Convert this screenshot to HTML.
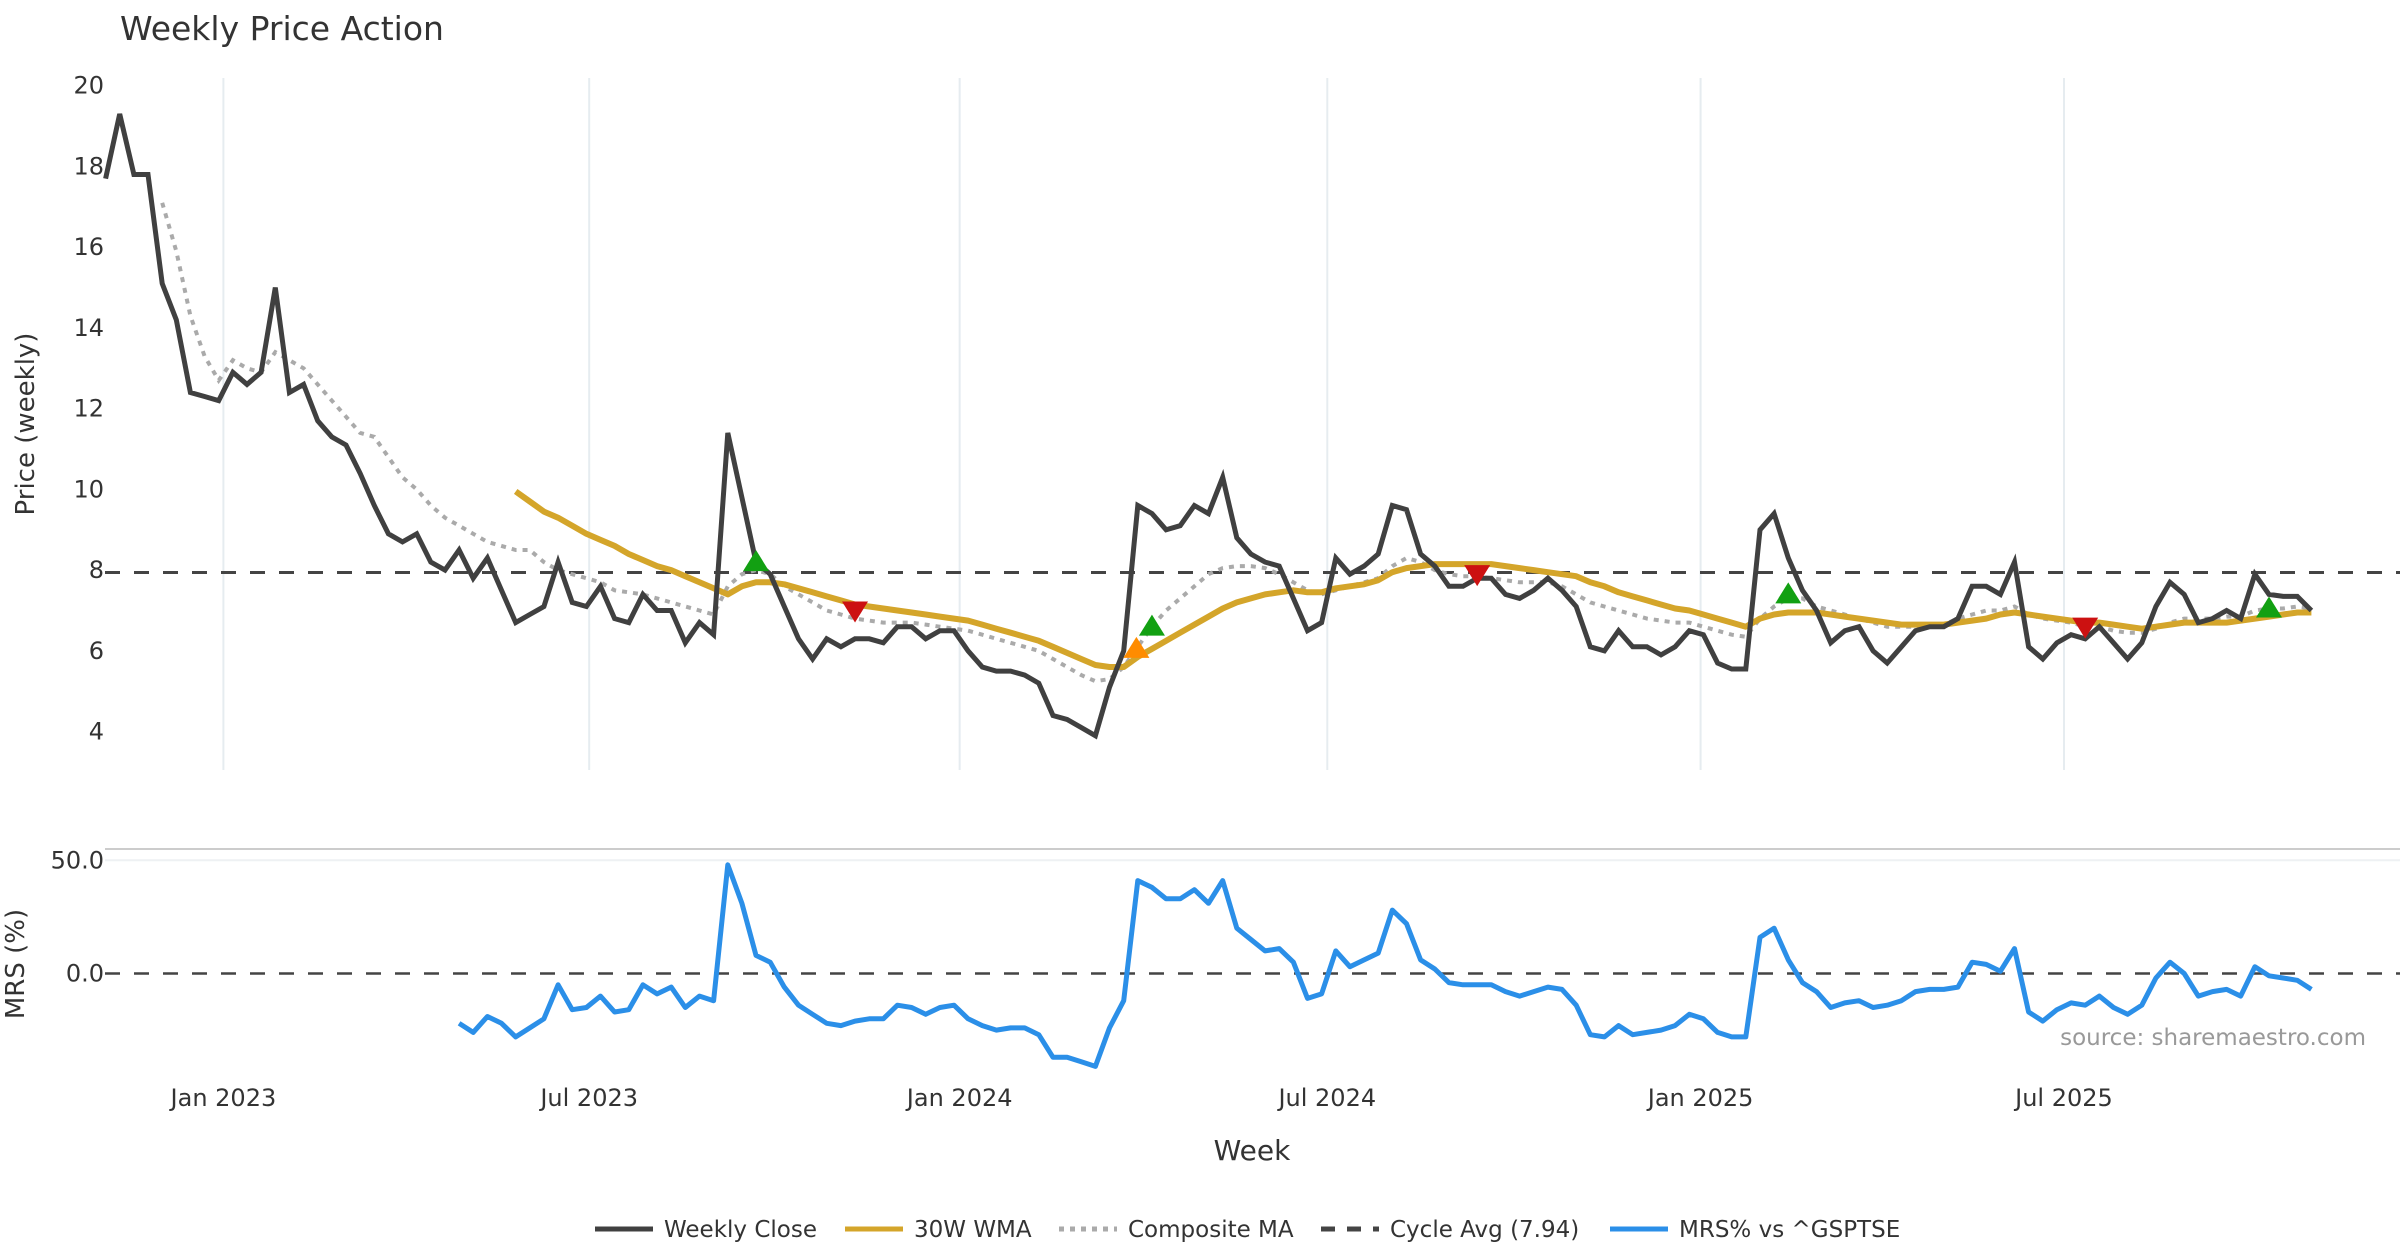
<!DOCTYPE html>
<html><head><meta charset="utf-8"><title>Weekly Price Action</title>
<style>html,body{margin:0;padding:0;background:#fff;}svg{display:block;font-family:"DejaVu Sans","Liberation Sans",sans-serif;}</style>
</head><body>
<svg id="chart" xmlns="http://www.w3.org/2000/svg" width="2400" height="1260" viewBox="0 0 2400 1260">
<rect width="2400" height="1260" fill="#fff"/>
<text x="120" y="40" font-size="33" fill="#333">Weekly Price Action</text>
<g id="grid"></g>
<g id="price"></g>
<g id="mrs"></g>
<g id="axes"></g>
<text x="34" y="424" font-size="26" fill="#333" text-anchor="middle" transform="rotate(-90 34 424)">Price (weekly)</text>
<text x="24" y="964" font-size="26" fill="#333" text-anchor="middle" transform="rotate(-90 24 964)">MRS (%)</text>
<text x="1252" y="1160" font-size="28" fill="#333" text-anchor="middle">Week</text>
<text x="2366" y="1045" font-size="23" fill="#999" text-anchor="end">source: sharemaestro.com</text>
<g id="legend"></g>
</svg>
<script>
const closeVals=[17.7,19.3,17.8,17.8,15.1,14.2,12.4,12.3,12.2,12.9,12.6,12.9,15.0,12.4,12.6,11.7,11.3,11.1,10.4,9.6,8.9,8.7,8.9,8.2,8.0,8.5,7.8,8.3,7.5,6.7,6.9,7.1,8.2,7.2,7.1,7.6,6.8,6.7,7.4,7.0,7.0,6.2,6.7,6.4,11.4,9.8,8.2,7.9,7.1,6.3,5.8,6.3,6.1,6.3,6.3,6.2,6.6,6.6,6.3,6.5,6.5,6.0,5.6,5.5,5.5,5.4,5.2,4.4,4.3,4.1,3.9,5.1,6.0,9.6,9.4,9.0,9.1,9.6,9.4,10.3,8.8,8.4,8.2,8.1,7.3,6.5,6.7,8.3,7.9,8.1,8.4,9.6,9.5,8.4,8.1,7.6,7.6,7.8,7.8,7.4,7.3,7.5,7.8,7.5,7.1,6.1,6.0,6.5,6.1,6.1,5.9,6.1,6.5,6.4,5.7,5.55,5.55,9.0,9.4,8.3,7.5,7.0,6.2,6.5,6.6,6.0,5.7,6.1,6.5,6.6,6.6,6.8,7.6,7.6,7.4,8.2,6.1,5.8,6.2,6.4,6.3,6.6,6.2,5.8,6.2,7.1,7.7,7.4,6.7,6.8,7.0,6.8,7.9,7.4,7.35,7.35,7.0];
const compStart=4;
const compVals=[17.1,15.9,14.3,13.3,12.7,13.2,13.0,12.9,13.4,13.2,13.0,12.6,12.2,11.8,11.4,11.3,10.8,10.3,10.0,9.6,9.3,9.1,8.9,8.7,8.6,8.5,8.5,8.2,8.0,7.9,7.8,7.7,7.5,7.45,7.4,7.3,7.2,7.1,7.0,6.9,7.6,7.9,8.0,7.9,7.6,7.4,7.2,7.0,6.9,6.8,6.75,6.7,6.7,6.7,6.65,6.6,6.55,6.5,6.4,6.3,6.2,6.1,6.0,5.8,5.6,5.4,5.25,5.3,5.6,6.1,6.6,7.0,7.3,7.6,7.9,8.05,8.1,8.1,8.05,7.9,7.7,7.5,7.4,7.5,7.6,7.7,7.8,8.1,8.3,8.2,8.0,7.9,7.85,7.85,7.8,7.75,7.7,7.7,7.7,7.6,7.4,7.2,7.1,7.0,6.9,6.8,6.75,6.7,6.7,6.6,6.5,6.4,6.35,6.8,7.1,7.3,7.3,7.1,7.0,6.9,6.8,6.7,6.6,6.6,6.6,6.6,6.65,6.8,6.9,7.0,7.0,7.1,6.9,6.8,6.75,6.7,6.6,6.6,6.5,6.45,6.45,6.55,6.7,6.8,6.8,6.8,6.85,6.85,7.0,7.05,7.05,7.1,7.05];
const wmaStart=29;
const wmaVals=[9.95,9.7,9.45,9.3,9.1,8.9,8.75,8.6,8.4,8.25,8.1,8.0,7.85,7.7,7.55,7.4,7.6,7.7,7.7,7.65,7.55,7.45,7.35,7.25,7.15,7.1,7.05,7.0,6.95,6.9,6.85,6.8,6.75,6.65,6.55,6.45,6.35,6.25,6.1,5.95,5.8,5.65,5.6,5.6,5.85,6.05,6.25,6.45,6.65,6.85,7.05,7.2,7.3,7.4,7.45,7.5,7.45,7.45,7.55,7.6,7.65,7.75,7.95,8.05,8.1,8.15,8.15,8.15,8.15,8.15,8.1,8.05,8.0,7.95,7.9,7.85,7.7,7.6,7.45,7.35,7.25,7.15,7.05,7.0,6.9,6.8,6.7,6.6,6.8,6.9,6.95,6.95,6.95,6.9,6.85,6.8,6.75,6.7,6.65,6.65,6.65,6.65,6.7,6.75,6.8,6.9,6.95,6.9,6.85,6.8,6.75,6.7,6.7,6.65,6.6,6.55,6.6,6.65,6.7,6.7,6.7,6.7,6.75,6.8,6.85,6.9,6.95,6.95];
const mrsStart=25;
const mrsVals=[-22,-26,-19,-22,-28,-24,-20,-5,-16,-15,-10,-17,-16,-5,-9,-6,-15,-10,-12,48,31,8,5,-6,-14,-18,-22,-23,-21,-20,-20,-14,-15,-18,-15,-14,-20,-23,-25,-24,-24,-27,-37,-37,-39,-41,-24,-12,41,38,33,33,37,31,41,20,15,10,11,5,-11,-9,10,3,6,9,28,22,6,2,-4,-5,-5,-5,-8,-10,-8,-6,-7,-14,-27,-28,-23,-27,-26,-25,-23,-18,-20,-26,-28,-28,16,20,6,-4,-8,-15,-13,-12,-15,-14,-12,-8,-7,-7,-6,5,4,1,11,-17,-21,-16,-13,-14,-10,-15,-18,-14,-2,5,0,-10,-8,-7,-10,3,-1,-2,-3,-7];
const cycleAvg=7.94;
const markerIdx=[46,53,72.9,74,97,119,140,153];
const markerVal=[8.2,7.0,6.05,6.6,7.9,7.4,6.6,7.05];
const markerType=['up','down','orange','up','down','up','down','up'];
const priceTicks=[4,6,8,10,12,14,16,18,20];
const mrsTicks=[0,50];
const mrsTickLabels=['0.0','50.0'];
const xTickIdx=[8.33,34.2,60.4,86.4,112.8,138.5];
const xTickLabels=['Jan 2023','Jul 2023','Jan 2024','Jul 2024','Jan 2025','Jul 2025'];

const NS='http://www.w3.org/2000/svg';
const X=i=>105.6+i*14.14;
const YP=v=>85.7+(20-v)*40.37;
const YM=v=>973.5-v*2.265;
function mk(tag,attrs,parent){const e=document.createElementNS(NS,tag);for(const k in attrs)e.setAttribute(k,attrs[k]);parent.appendChild(e);return e;}
const grid=document.getElementById('grid'),price=document.getElementById('price'),mrs=document.getElementById('mrs'),axes=document.getElementById('axes'),legend=document.getElementById('legend');

xTickIdx.forEach((t,k)=>{
  const g=mk('line',{x1:X(t),x2:X(t),y1:78,y2:770,stroke:'#e6ecf0','stroke-width':2},grid);
  
  
  const tx=mk('text',{x:X(t),y:1106,'font-size':24,fill:'#333','text-anchor':'middle'},axes);
  tx.textContent=xTickLabels[k];
  
  
});
priceTicks.forEach(v=>{
  const tx=mk('text',{x:104,y:YP(v)+8,'font-size':24,fill:'#333','text-anchor':'end'},axes);
  tx.textContent=v;
  
  
});
const sep=mk('line',{x1:105,x2:2400,y1:849,y2:849,stroke:'#ccc','stroke-width':2},grid);


const g50=mk('line',{x1:105,x2:2400,y1:YM(50),y2:YM(50),stroke:'#eef1f3','stroke-width':2},grid);


mrsTicks.forEach((v,k)=>{
  const tx=mk('text',{x:104,y:YM(v)+8,'font-size':24,fill:'#333','text-anchor':'end'},axes);
  tx.textContent=mrsTickLabels[k];
  
  
});

function pts(vals,start,yf){return vals.map((v,i)=>X(start+i).toFixed(1)+','+yf(v).toFixed(1)).join(' ');}
const ca=mk('line',{x1:105,x2:2400,y1:YP(cycleAvg),y2:YP(cycleAvg),stroke:'#444','stroke-width':3,'stroke-dasharray':'15 14'},price);


const comp=mk('polyline',{points:pts(compVals,compStart,YP),fill:'none',stroke:'#aaa','stroke-width':4,'stroke-dasharray':'5 6'},price);


const wma=mk('polyline',{points:pts(wmaVals,wmaStart,YP),fill:'none',stroke:'#d4a52a','stroke-width':6,'stroke-linejoin':'round'},price);


const cl=mk('polyline',{points:pts(closeVals,0,YP),fill:'none',stroke:'#404040','stroke-width':5,'stroke-linejoin':'miter'},price);


markerIdx.forEach((mi,k)=>{
  const x=X(mi),y=YP(markerVal[k]),t=markerType[k];let d,c;
  if(t==='down'){d=`M${x-13},${y-9} L${x+13},${y-9} L${x},${y+12} Z`;c='#cc1111';}
  else{d=`M${x-13},${y+9} L${x+13},${y+9} L${x},${y-12} Z`;c=t==='orange'?'#ff8c00':'#12a012';}
  const m=mk('path',{d:d,fill:c},price);
  
  
});
const z=mk('line',{x1:105,x2:2400,y1:YM(0),y2:YM(0),stroke:'#444','stroke-width':2.5,'stroke-dasharray':'15 14'},mrs);


const ml=mk('polyline',{points:pts(mrsVals,mrsStart,YM),fill:'none',stroke:'#2b8fe8','stroke-width':5,'stroke-linejoin':'round'},mrs);



const legItems=[['Weekly Close','#404040','',595],['30W WMA','#d4a52a','',845],['Composite MA','#aaa','5 6',1059],['Cycle Avg (7.94)','#444','14 12',1321],['MRS% vs ^GSPTSE','#2b8fe8','',1610]];
legItems.forEach(it=>{
  const g=mk('g',{},legend);
  
  
  const a={x1:it[3],x2:it[3]+58,y1:1229,y2:1229,stroke:it[1],'stroke-width':5};
  if(it[2])a['stroke-dasharray']=it[2];
  const l=mk('line',a,g);
  
  
  const t=mk('text',{x:it[3]+69,y:1237,'font-size':23,fill:'#333'},g);
  t.textContent=it[0];
  
  
});
</script>
</body></html>
